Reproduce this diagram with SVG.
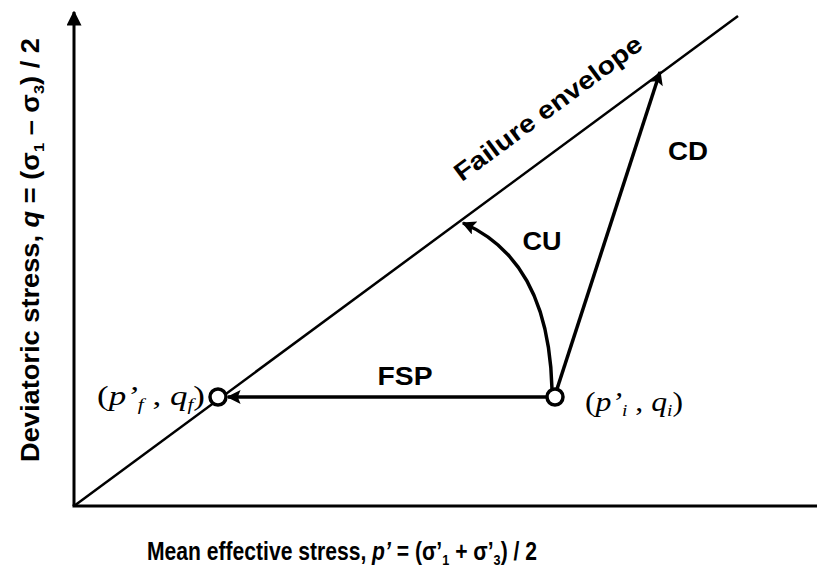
<svg xmlns="http://www.w3.org/2000/svg" width="817" height="578" viewBox="0 0 817 578">
<style>
.ax{stroke:#000;stroke-width:3;fill:none}
.ln{stroke:#000;stroke-width:2.5;fill:none}
.ar{stroke:#000;stroke-width:3.5;fill:none}
.lbl{font-family:"Liberation Sans",Arial,sans-serif;font-weight:bold;fill:#000}
.math{font-family:"Liberation Serif","DejaVu Serif",serif;font-style:italic;fill:#000;font-size:28px}
.pt{fill:#fff;stroke:#000;stroke-width:3.5}
</style>
<defs>
<marker id="ah" viewBox="0 0 10 10" refX="9" refY="5" markerWidth="4.5" markerHeight="4" orient="auto" markerUnits="strokeWidth">
<path d="M0,0 L10,5 L0,10 L2,5 z" fill="#000"/>
</marker>
<marker id="ah2" viewBox="0 0 10 10" refX="9" refY="5" markerWidth="5" markerHeight="5" orient="auto" markerUnits="strokeWidth">
<path d="M0,0 L10,5 L0,10 z" fill="#000"/>
</marker>
</defs>
<g id="axes">
<line class="ax" x1="74" y1="506" x2="74" y2="12" marker-end="url(#ah2)"/>
<line class="ax" x1="72.5" y1="506" x2="817" y2="506"/>
<text class="lbl" font-size="25" transform="translate(39,250) rotate(-90)" text-anchor="middle" textLength="424" lengthAdjust="spacingAndGlyphs">Deviatoric stress, <tspan font-style="italic">q</tspan> = (σ<tspan font-size="15" dy="5">1</tspan><tspan dy="-5"> – σ</tspan><tspan font-size="15" dy="5">3</tspan><tspan dy="-5">) / 2</tspan></text>
<text class="lbl" font-size="25" x="342" y="560" text-anchor="middle" textLength="390" lengthAdjust="spacingAndGlyphs">Mean effective stress, <tspan font-style="italic">p’</tspan> = (σ’<tspan font-size="15" dy="5">1</tspan><tspan dy="-5"> + σ’</tspan><tspan font-size="15" dy="5">3</tspan><tspan dy="-5">) / 2</tspan></text>
</g>
<g id="envelope">
<line class="ln" x1="74" y1="506" x2="738" y2="16"/>
<text class="lbl" font-size="25" transform="translate(553,115) rotate(-36.4)" text-anchor="middle" textLength="227" lengthAdjust="spacingAndGlyphs">Failure envelope</text>
</g>
<g id="connectors">
<line class="ar" x1="546" y1="397" x2="228" y2="397" marker-end="url(#ah)"/>
<line class="ar" x1="557" y1="389" x2="660" y2="72" marker-end="url(#ah)"/>
<path class="ar" d="M552,389 C550,310 525,250 463,223" marker-end="url(#ah)"/>
<text class="lbl" font-size="25" x="405" y="385" text-anchor="middle" textLength="55" lengthAdjust="spacingAndGlyphs">FSP</text>
<text class="lbl" font-size="25" x="542" y="250" text-anchor="middle" textLength="39" lengthAdjust="spacingAndGlyphs">CU</text>
<text class="lbl" font-size="25" x="688" y="160" text-anchor="middle" textLength="40" lengthAdjust="spacingAndGlyphs">CD</text>
</g>
<g id="node-final">
<circle class="pt" cx="218" cy="397" r="8"/>
<text class="math" x="97" y="405" textLength="108" lengthAdjust="spacingAndGlyphs"><tspan font-style="normal">(</tspan>p’<tspan font-size="17" dy="5">f</tspan><tspan dy="-5" font-style="normal"> , </tspan>q<tspan font-size="17" dy="5">f</tspan><tspan dy="-5" font-style="normal">)</tspan></text>
</g>
<g id="node-initial">
<circle class="pt" cx="555" cy="397" r="8"/>
<text class="math" x="585" y="411" textLength="98" lengthAdjust="spacingAndGlyphs"><tspan font-style="normal">(</tspan>p’<tspan font-size="17" dy="5">i</tspan><tspan dy="-5" font-style="normal"> , </tspan>q<tspan font-size="17" dy="5">i</tspan><tspan dy="-5" font-style="normal">)</tspan></text>
</g>
</svg>
